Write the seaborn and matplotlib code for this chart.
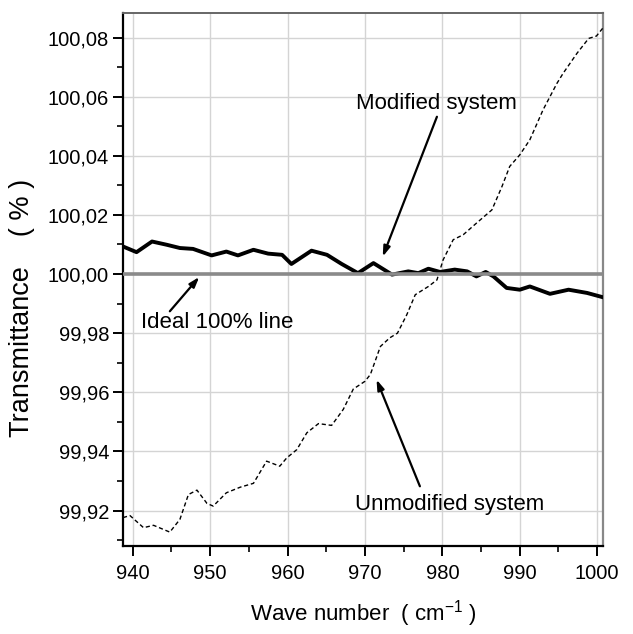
import numpy as np
import pandas as pd
import matplotlib
matplotlib.use("Agg")
import matplotlib.pyplot as plt
from matplotlib.ticker import FuncFormatter, MultipleLocator
import seaborn as sns

# ---------------------------------------------------------
# data
# ---------------------------------------------------------
mod_wave = [938.4, 940.5, 942.5, 944.4, 946.1, 947.8, 950.2, 952.1, 953.6, 955.6,
            957.5, 959.3, 960.5, 963.1, 965.1, 967.0, 969.1, 971.1, 973.5, 975.6,
            976.9, 978.2, 979.7, 981.6, 983.2, 984.4, 985.6, 986.6, 988.3, 990.0,
            991.3, 993.9, 996.3, 998.7, 1000.8]
mod_trans = [100.0097, 100.0074, 100.0110, 100.0099, 100.0088, 100.0085, 100.0063, 100.0076,
             100.0063, 100.0082, 100.0069, 100.0065, 100.0034, 100.0079, 100.0065, 100.0034,
             100.0003, 100.0037, 99.9998, 100.0009, 100.0003, 100.0018, 100.0007, 100.0015,
             100.0009, 99.9992, 100.0007, 99.9992, 99.9953, 99.9947, 99.9958, 99.9933,
             99.9947, 99.9936, 99.9921]

unmod_wave = [938.75, 939.65, 941.4, 942.7, 944.8, 946.1, 947.2, 948.3, 949.6, 950.4,
              952.1, 953.9, 955.6, 957.3, 959.0, 959.9, 961.2, 962.5, 964.0, 965.7,
              967.2, 968.5, 970.0, 970.7, 972.0, 973.2, 974.2, 975.4, 976.5, 978.2,
              979.3, 980.1, 981.4, 982.7, 984.4, 986.4, 987.7, 988.7, 990.0, 991.3,
              993.0, 994.8, 995.6, 997.4, 998.9, 999.9, 1000.7]
unmod_trans = [99.9176, 99.9183, 99.9142, 99.9150, 99.9127, 99.9170, 99.9254, 99.9269, 99.9224,
               99.9215, 99.9260, 99.9279, 99.9292, 99.9367, 99.9350, 99.9378, 99.9406, 99.9463,
               99.9494, 99.9488, 99.9542, 99.9611, 99.9637, 99.9660, 99.9755, 99.9784, 99.9800,
               99.9862, 99.9930, 99.9958, 99.9980, 100.0048, 100.0116, 100.0133, 100.0172,
               100.0217, 100.0296, 100.0364, 100.0403, 100.0454, 100.0555, 100.0645, 100.0679,
               100.0747, 100.0797, 100.0805, 100.0831]

ideal_level = 100.0

df_mod = pd.DataFrame({"wave": mod_wave, "T": mod_trans})
df_unmod = pd.DataFrame({"wave": unmod_wave, "T": unmod_trans})

# ---------------------------------------------------------
# style
# ---------------------------------------------------------
sns.set_style("ticks")
plt.rcParams["font.family"] = ["Liberation Sans", "DejaVu Sans"]
plt.rcParams["text.color"] = "black"
plt.rcParams["axes.labelcolor"] = "black"

fig = plt.figure(figsize=(6.33, 6.34), dpi=100, facecolor="white")
ax = fig.add_axes([0.1943, 0.1388, 0.9526 - 0.1943, 0.9795 - 0.1388])

ax.grid(True, which="major", color="#d4d4d4", linewidth=1.0, zorder=0)
ax.set_axisbelow(True)

# ---------------------------------------------------------
# lines
# ---------------------------------------------------------
sns.lineplot(data=df_unmod, x="wave", y="T", ax=ax, color="black", linewidth=1.0,
             linestyle=(0, (3, 2)), zorder=3)
sns.lineplot(data=df_mod, x="wave", y="T", ax=ax, color="black", linewidth=2.8,
             zorder=4)
ax.axhline(ideal_level, color="#8a8a8a", linewidth=2.6, zorder=5)

ax.set_xlim(938.75, 1000.75)
ax.set_ylim(99.908, 100.0883)

ax.xaxis.set_major_locator(MultipleLocator(10))
ax.xaxis.set_minor_locator(MultipleLocator(5))
ax.yaxis.set_major_locator(MultipleLocator(0.02))
ax.yaxis.set_minor_locator(MultipleLocator(0.01))
ax.yaxis.set_major_formatter(FuncFormatter(lambda v, p: f"{v:.2f}".replace(".", ",")))

ax.tick_params(axis="both", which="major", direction="out", length=7, width=1.4,
               labelsize=14.5, colors="black")
ax.tick_params(axis="both", which="minor", direction="out", length=4.5, width=1.4)
ax.tick_params(axis="x", which="major", pad=6)
ax.tick_params(axis="y", which="major", pad=3)

for side in ["left", "bottom"]:
    ax.spines[side].set_color("black")
    ax.spines[side].set_linewidth(1.6)
ax.spines["top"].set_color("#666666")
ax.spines["top"].set_linewidth(1.4)
ax.spines["right"].set_color("#888888")
ax.spines["right"].set_linewidth(1.6)

ax.set_xlabel("Wave number  ( cm$^{\\mathregular{-1}}$ )", fontsize=16, va="top")
ax.xaxis.set_label_coords(0.5, -0.097)
ax.set_ylabel("Transmittance    ( % )", fontsize=19.5, va="bottom")
ax.yaxis.set_label_coords(-0.183, 0.4465)

# ---------------------------------------------------------
# annotations
# ---------------------------------------------------------
arrow = dict(arrowstyle="-|>,head_length=0.6,head_width=0.2", color="black", lw=1.6,
             shrinkA=0, shrinkB=0)
ax.annotate("", xy=(972.3, 100.0059), xytext=(979.3, 100.0532), arrowprops=arrow, zorder=6)
ax.text(979.3, 100.0578, "Modified system", fontsize=16, ha="center", va="center")

ax.annotate("", xy=(948.6, 99.9990), xytext=(944.8, 99.9874), arrowprops=arrow, zorder=6)
ax.text(950.96, 99.9835, "Ideal 100% line", fontsize=16, ha="center", va="center")

ax.annotate("", xy=(971.5, 99.9643), xytext=(977.1, 99.9282), arrowprops=arrow, zorder=6)
ax.text(980.9, 99.9220, "Unmodified system", fontsize=16, ha="center", va="center")

fig.savefig("out.png", dpi=100, facecolor="white")
